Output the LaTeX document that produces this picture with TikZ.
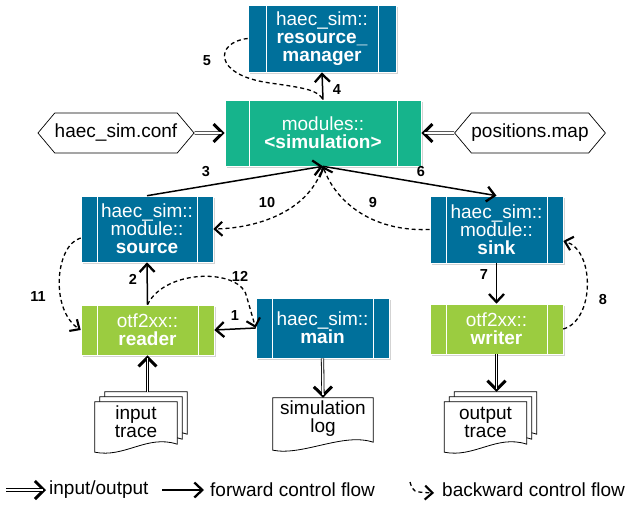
\documentclass[tikz,border=0pt]{standalone}
\usepackage{fontspec}
\setmainfont{Liberation Sans}
\usetikzlibrary{arrows.meta,shapes.symbols,shadows,backgrounds}

\definecolor{simblue}{RGB}{0,112,155}
\definecolor{simteal}{RGB}{22,180,140}
\definecolor{simlime}{RGB}{155,204,64}

\tikzset{
  barinset/.store in=\barw, barinset=16pt,
  module/.style={draw=white, line width=0.6pt, text=white, align=center,
    font=\fontsize{19}{18}\selectfont, inner sep=0pt,
    drop shadow={shadow xshift=2pt, shadow yshift=-2pt, opacity=0.35},
    path picture={
      \draw[white, line width=0.8pt] ([xshift=\barw]path picture bounding box.north west) -- ([xshift=\barw]path picture bounding box.south west);
      \draw[white, line width=0.8pt] ([xshift=-\barw]path picture bounding box.north east) -- ([xshift=-\barw]path picture bounding box.south east);}},
  datafile/.style={signal, signal to=west and east, signal pointer angle=100,
    draw, line width=0.7pt, fill=white, font=\fontsize{19}{20}\selectfont,
    inner xsep=0pt, minimum height=40pt},
  doc/.style={minimum width=82pt, minimum height=40pt, inner sep=0pt,
    align=center, font=\fontsize{19}{18}\selectfont},
  docline/.style={draw, fill=white, line width=0.8pt},
  fwd/.style={line width=1.5pt, -{Straight Barb[length=8pt,width=15pt,line width=2.3pt]}},
  back/.style={line width=1.3pt, dash pattern=on 4pt off 3pt,
    -{Straight Barb[length=7.5pt,width=14pt,line width=2.1pt]}},
  io/.style={line width=3.2pt, -{Straight Barb[length=9pt,width=18pt,line width=3pt]},
    postaction={draw=white, line width=1.6pt, -, shorten >=3pt}},
  lbl/.style={font=\fontsize{14.5}{15}\selectfont\bfseries, inner sep=0pt},
  legend/.style={font=\fontsize{19}{20}\selectfont, inner sep=0pt, anchor=west}
}

% one page of a document, #1 node, #2 offset up and right
\newcommand\docpage[2]{%
  \draw[docline] ([shift={(#2,#2)}]#1.north west) -- ([shift={(#2,#2)}]#1.north east)
    -- ([shift={(#2,#2-2pt)}]#1.south east) .. controls +(-30pt,10pt) and +(30pt,-6pt)
    .. ([shift={(#2,#2-10pt)}]#1.south west) -- cycle;}

\begin{document}
\begin{tikzpicture}[x=1pt,y=-1pt]
    \useasboundingbox (0,0) rectangle (631,508);

    % modules
    \node[module, fill=simblue, minimum width=148pt, minimum height=67pt, barinset=18pt] (resmgr) at (322,38.5) {haec\_sim::\\\textbf{resource\_}\\\textbf{manager}};
    \node[module, fill=simteal, minimum width=196pt, minimum height=66pt, barinset=24pt] (sim) at (323,133) {modules::\\\textbf{<simulation>}};
    \node[module, fill=simblue, minimum width=132pt, minimum height=66pt] (source) at (147,229) {haec\_sim::\\module::\\\textbf{source}};
    \node[module, fill=simblue, minimum width=133pt, minimum height=67pt] (sink) at (496.5,229.5) {haec\_sim::\\module::\\\textbf{sink}};
    \node[module, fill=simlime, minimum width=133pt, minimum height=50pt] (reader) at (147.5,330) {otf2xx::\\\textbf{reader}};
    \node[module, fill=simlime, minimum width=133pt, minimum height=50pt] (writer) at (496.5,329) {otf2xx::\\\textbf{writer}};
    \node[module, fill=simblue, minimum width=133pt, minimum height=60pt] (main) at (322.5,328) {haec\_sim::\\\textbf{main}};

    % files
    \node[datafile] (conf) at (116,133) {haec\_sim.conf};
    \node[datafile] (posmap) at (530,133) {positions.map};
    \node[doc] (itrace) at (136,422) {input\\trace};
    \node[doc] (otrace) at (485.5,422) {output\\trace};
    \node[doc, minimum width=100pt, minimum height=42pt] (slog) at (323,419) {simulation\\log};

    \begin{pgfonlayer}{background}
      \docpage{itrace}{10pt}\docpage{itrace}{5pt}\docpage{itrace}{0pt}
      \docpage{otrace}{10pt}\docpage{otrace}{5pt}\docpage{otrace}{0pt}
      \docpage{slog}{0pt}
    \end{pgfonlayer}

    % input/output
    \draw[io] (conf) -- (sim.west);
    \draw[io] (posmap) -- (sim.east);
    \draw[io] ([yshift=10pt]itrace.north -| reader.south) -- (reader.south);
    \draw[io] (main.south) -- (slog.north);
    \draw[io] (writer.south) -- ([yshift=10pt]writer.south |- otrace.north);

    % forward control flow
    \draw[fwd] (main.west) -- (reader.east);
    \draw[fwd] (reader.north) -- (source.south);
    \draw[fwd] (source.north) -- (sim.south);
    \draw[fwd] (sim.north) -- (resmgr.south);
    \draw[fwd] (sim.south) -- (sink.north);
    \draw[fwd] (sink.south) -- (writer.north);

    % backward control flow
    \draw[back, -] (resmgr.west) .. controls (215,42) and (212,75) .. (270,83) .. controls (305,88) and (318,90) .. (sim.north);
    \draw[back] (writer.east) .. controls (595,320) and (595,250) .. ([yshift=-11.5pt]sink.east);
    \draw[back] (sink.west) .. controls (370,232) and (335,200) .. (sim.south);
    \draw[back] (sim.south) .. controls (310,210) and (260,228) .. (source.east);
    \draw[back] ([yshift=-9pt]source.west) .. controls (55,245) and (50,310) .. (reader.west);
    \draw[back] (reader.north) .. controls (165,268) and (243,268) .. (247,298) -- (main.west);

    % step numbers
    \node[lbl] (n1) at (235,316) {1};
    \node[lbl] (n2) at (133,279) {2};
    \node[lbl] (n3) at (206,172) {3};
    \node[lbl] (n4) at (337,90) {4};
    \node[lbl] (n5) at (207,61) {5};
    \node[lbl] (n6) at (421,172) {6};
    \node[lbl] (n7) at (484,275) {7};
    \node[lbl] (n8) at (603,300) {8};
    \node[lbl] (n9) at (373,203) {9};
    \node[lbl] (n10) at (267,203) {10};
    \node[lbl] (n11) at (38,297) {11};
    \node[lbl] (n12) at (240,276) {12};

    % legend
    \coordinate (ioA) at (6,490);
    \coordinate (ioB) at (46,490);
    \draw[io] (ioA) -- (ioB);
    \node[legend] (iotext) at (49,490) {input/output};
    \coordinate (fwA) at (162,490);
    \coordinate (fwB) at (204,490);
    \draw[fwd] (fwA) -- (fwB);
    \node[legend] (fwtext) at (210,490) {forward control flow};
    \coordinate (bkA) at (410,482);
    \coordinate (bkB) at (434,493);
    \draw[back] (bkA) .. controls (413,492) .. (bkB);
    \node[legend] (bktext) at (442,490) {backward control flow};
\end{tikzpicture}
\end{document}
